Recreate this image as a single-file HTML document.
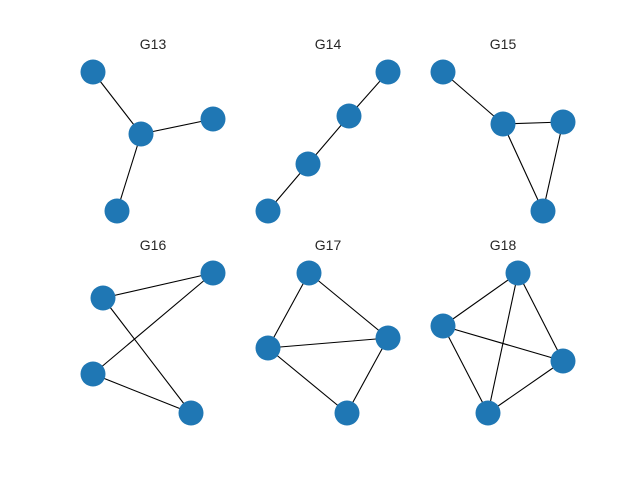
<!DOCTYPE html>
<html><head><meta charset="utf-8"><style>html,body{margin:0;padding:0;background:#fff}svg{display:block}</style></head>
<body>
<svg width="640" height="480" xmlns="http://www.w3.org/2000/svg">
<g font-family="Liberation Sans, DejaVu Sans, sans-serif" font-size="14" fill="#262626" text-anchor="middle">
<text x="153" y="49">G13</text><text x="328" y="49">G14</text><text x="503" y="49">G15</text>
<text x="153" y="250">G16</text><text x="328" y="250">G17</text><text x="503" y="250">G18</text>
</g>
<g stroke="#000" stroke-width="1.1">
<line x1="93" y1="72" x2="141" y2="134"/><line x1="141" y1="134" x2="213" y2="119"/><line x1="141" y1="134" x2="117" y2="211"/>
<line x1="388" y1="72" x2="349" y2="116"/><line x1="349" y1="116" x2="308" y2="164"/><line x1="308" y1="164" x2="268" y2="211"/>
<line x1="443" y1="72" x2="503" y2="124"/><line x1="503" y1="124" x2="563" y2="122"/><line x1="503" y1="124" x2="543" y2="211"/><line x1="563" y1="122" x2="543" y2="211"/>
<line x1="103" y1="298" x2="213" y2="273"/><line x1="103" y1="298" x2="191" y2="413"/><line x1="93" y1="374" x2="213" y2="273"/><line x1="93" y1="374" x2="191" y2="413"/>
<line x1="309" y1="273" x2="268" y2="348"/><line x1="309" y1="273" x2="388" y2="338"/><line x1="268" y1="348" x2="388" y2="338"/><line x1="268" y1="348" x2="347" y2="413"/><line x1="388" y1="338" x2="347" y2="413"/>
<line x1="518" y1="273" x2="443" y2="326"/><line x1="518" y1="273" x2="563" y2="361"/><line x1="518" y1="273" x2="488" y2="413"/><line x1="443" y1="326" x2="563" y2="361"/><line x1="443" y1="326" x2="488" y2="413"/><line x1="563" y1="361" x2="488" y2="413"/>
</g>
<g fill="#1f77b4">
<circle cx="93" cy="72" r="12.5"/><circle cx="141" cy="134" r="12.5"/><circle cx="213" cy="119" r="12.5"/><circle cx="117" cy="211" r="12.5"/>
<circle cx="388" cy="72" r="12.5"/><circle cx="349" cy="116" r="12.5"/><circle cx="308" cy="164" r="12.5"/><circle cx="268" cy="211" r="12.5"/>
<circle cx="443" cy="72" r="12.5"/><circle cx="503" cy="124" r="12.5"/><circle cx="563" cy="122" r="12.5"/><circle cx="543" cy="211" r="12.5"/>
<circle cx="103" cy="298" r="12.5"/><circle cx="213" cy="273" r="12.5"/><circle cx="93" cy="374" r="12.5"/><circle cx="191" cy="413" r="12.5"/>
<circle cx="309" cy="273" r="12.5"/><circle cx="268" cy="348" r="12.5"/><circle cx="388" cy="338" r="12.5"/><circle cx="347" cy="413" r="12.5"/>
<circle cx="518" cy="273" r="12.5"/><circle cx="443" cy="326" r="12.5"/><circle cx="563" cy="361" r="12.5"/><circle cx="488" cy="413" r="12.5"/>
</g>
</svg>
</body></html>
